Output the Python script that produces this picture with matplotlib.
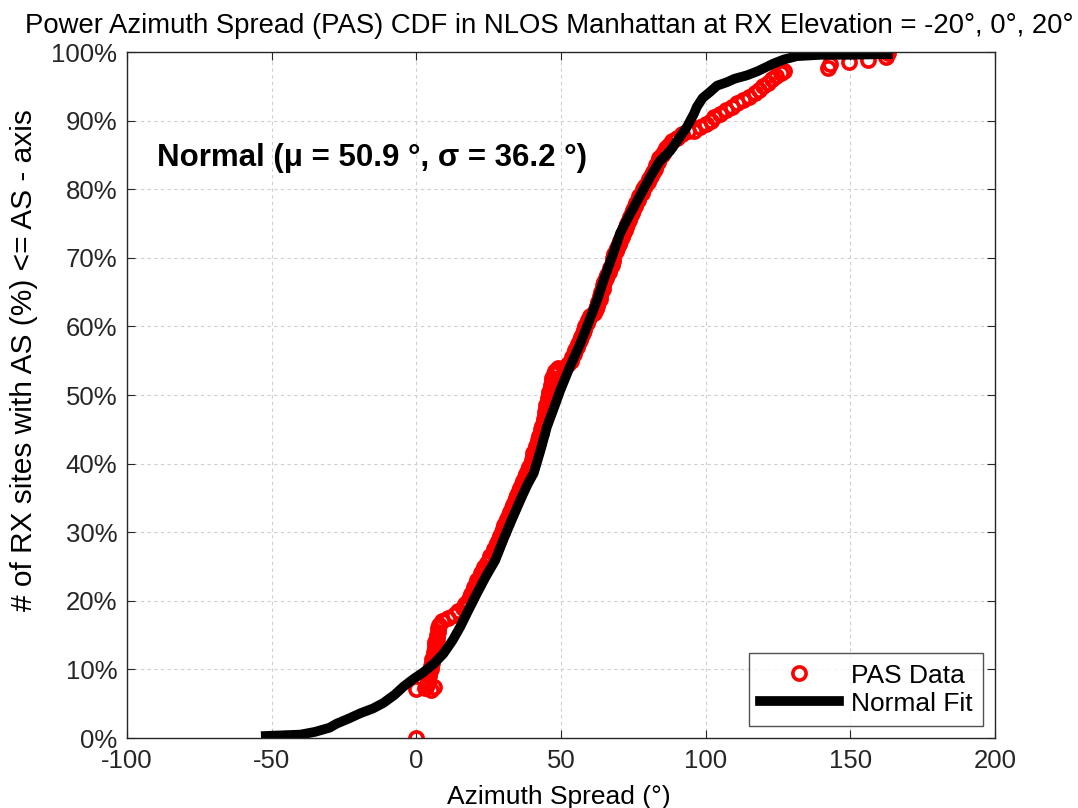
import matplotlib
matplotlib.use("Agg")
import matplotlib.pyplot as plt
from matplotlib.ticker import FuncFormatter

plt.rcParams['font.family'] = ['Liberation Sans', 'DejaVu Sans']
plt.rcParams['axes.unicode_minus'] = False

# PAS data (azimuth spread in degrees, CDF in %)
pas_as = [0, 0, 3, 6,
          5, 3.5, 4, 4, 4.5, 4.5, 5, 5, 5.5, 5.5,
          6, 6, 6.5, 6.5, 6.5, 7, 7, 7.5, 7.5, 8,
          9, 11, 13, 14.5, 16, 17, 18, 18.5, 19, 19.5,
          20, 20.5, 21, 22, 22.5, 23, 23.5, 24.5, 25, 25.5,
          26.5, 27, 27.5, 28, 28.5, 29, 29.5, 30, 30.5, 31,
          31.5, 32, 32.5, 33, 33.5, 34, 34.5, 35, 35.5, 36,
          36.5, 37, 37.5, 38, 38.5, 39, 39.5, 40, 40.5, 40.5,
          41, 41.5, 42, 42, 42.5, 43, 43, 43.5, 44, 44,
          44.5, 44.5, 45, 45, 45.5, 45.5, 46, 46, 46.5, 46.5,
          47, 47, 47.5, 48, 49, 51, 52.5, 53.5, 54, 54.5, 55,
          55.5, 56, 56.5, 57, 57.5, 58, 58.5, 59, 59.5, 60,
          61.5, 62, 62.5, 63, 63.5, 63.5, 64, 64.5, 64.5, 65,
          65.5, 66, 66.5, 67, 67.5, 68, 68, 68.5, 69, 69.5,
          70, 70.5, 71, 71.5, 72, 72.5, 73, 73.5, 74, 74.5,
          75, 75.5, 76, 76.5, 77, 78, 78.5, 79, 80, 80.5,
          81, 82, 82.5, 83, 83.5, 84, 85, 85.5, 86.5, 87.5,
          88.5, 90, 92, 94, 96, 98, 100, 102, 103, 105, 107,
          109, 111, 113, 115, 117, 118.5, 120, 121.5, 123, 124.5, 126, 127,
          142.5, 143, 149.5, 156, 162.5, 163]
pas_cdf = [0, 7.2, 7.3, 7.5,
           7.0, 7.5, 8.0, 8.5, 9.0, 9.5, 10.0, 10.5, 11.0, 11.5,
           12.0, 12.5, 13.0, 13.5, 14.0, 14.5, 15.0, 15.5, 16.0, 16.5,
           17.0, 17.5, 18.0, 18.5, 19.0, 19.5, 20.0, 20.5, 21.0, 21.5,
           22.0, 22.5, 23.0, 23.5, 24.0, 24.5, 25.0, 25.5, 26.0, 26.5,
           27.0, 27.5, 28.0, 28.5, 29.0, 29.5, 30.0, 30.5, 31.0, 31.5,
           32.0, 32.5, 33.0, 33.5, 34.0, 34.5, 35.0, 35.5, 36.0, 36.5,
           37.0, 37.5, 38.0, 38.5, 39.0, 39.5, 40.0, 40.5, 41.0, 41.5,
           42.0, 42.5, 43.0, 43.5, 44.0, 44.5, 45.0, 45.5, 46.0, 46.5,
           47.0, 47.5, 48.0, 48.5, 49.0, 49.5, 50.0, 50.5, 51.0, 51.5,
           52.0, 52.5, 53.0, 53.5, 54.0, 54.0, 54.5, 55.0, 55.5, 56.0, 56.5,
           57.0, 57.5, 58.0, 58.5, 59.0, 59.5, 60.0, 60.5, 61.0, 61.5,
           62.0, 62.5, 63.0, 63.5, 64.0, 64.5, 65.0, 65.5, 66.0, 66.5,
           67.0, 67.5, 68.0, 68.5, 69.0, 69.5, 70.0, 70.5, 71.0, 71.5,
           72.0, 72.5, 73.0, 73.5, 74.0, 74.5, 75.0, 75.5, 76.0, 76.5,
           77.0, 77.5, 78.0, 78.5, 79.0, 79.5, 80.0, 80.5, 81.0, 81.5,
           82.0, 82.5, 83.0, 83.5, 84.0, 84.5, 85.0, 85.5, 86.0, 86.5,
           87.0, 87.5, 88.0, 88.5, 88.5, 89.0, 89.5, 90.0, 90.5, 91.0, 91.5,
           92.0, 92.5, 93.0, 93.5, 94.0, 94.5, 95.0, 95.5, 96.0, 96.5, 97.0, 97.3,
           97.6, 98.3, 98.6, 98.9, 99.3, 99.8]

# Normal fit curve
fit_as = [-52, -40, -35, -30, -27.5, -23, -19.4, -15, -11.4, -7.5, -4.4, -1,
          2.5, 6, 9.4, 12.5, 15.2, 18, 21, 24, 27.3, 30.1, 33, 36, 38.5, 40.6,
          43, 45.2, 47.5, 49.8, 53, 56.7, 59.5, 62.5, 65, 68, 70.5, 72.8, 76,
          80.9, 84, 87.8, 93.6, 96, 97, 99, 101.6, 104, 107.4, 110, 114.3,
          118, 123.4, 127, 131.6, 140, 150, 163]
fit_cdf = [0.3, 0.5, 0.9, 1.5, 2.1, 2.9, 3.6, 4.3, 5.1, 6.3, 7.5, 8.6, 9.6,
           10.8, 12.3, 14.2, 16.2, 18.6, 21.1, 23.5, 25.9, 28.9, 31.8, 34.7,
           37, 38.6, 42, 45.4, 48, 50.7, 54, 57.5, 60.5, 63.8, 67, 70.5, 73.6,
           75.5, 78, 81.8, 84, 85.6, 89.1, 91, 92, 93.3, 94.2, 95.1, 95.6,
           96.1, 96.6, 97.2, 98.3, 98.9, 99.4, 99.6, 99.6, 99.7]

x_ticks = [-100, -50, 0, 50, 100, 150, 200]
y_ticks = [0, 10, 20, 30, 40, 50, 60, 70, 80, 90, 100]

fig = plt.figure(figsize=(10.78, 8.08), dpi=100)
ax = fig.add_axes([0.1178, 0.0866, 0.805, 0.849])

ax.plot(pas_as, pas_cdf, 'o', mfc='none', mec='red', ms=9.5, mew=2.6,
        label='PAS Data')
ax.plot(fit_as, fit_cdf, '-', color='black', lw=7, label='Normal Fit')

ax.set_xlim(-100, 200)
ax.set_ylim(0, 100)
ax.set_xticks(x_ticks)
ax.set_yticks(y_ticks)
ax.yaxis.set_major_formatter(FuncFormatter(lambda v, p: '%d%%' % v))
ax.tick_params(direction='in', length=6, top=True, right=True,
               labelsize=18.5, colors='#262626')
ax.tick_params(axis='y', pad=7)
ax.tick_params(axis='x', pad=8)
ax.grid(True, color='#cfcfcf', linestyle=(0, (3, 3)), linewidth=0.8)
ax.set_axisbelow(True)
for s in ax.spines.values():
    s.set_color('#262626')
    s.set_linewidth(1.0)

ax.set_title('Power Azimuth Spread (PAS) CDF in NLOS Manhattan at RX Elevation = -20°, 0°, 20°',
             fontsize=19.8, pad=14, x=0.4867)
ax.set_xlabel('Azimuth Spread (°)', fontsize=19)
ax.set_ylabel('# of RX sites with AS (%) <= AS - axis', fontsize=21.5)
ax.xaxis.set_label_coords(0.498, -0.068)
ax.yaxis.set_label_coords(-0.1025, 0.551)

ax.text(-89.6, 84.5, 'Normal (μ = 50.9 °, σ = 36.2 °)', fontsize=22.5,
        fontweight='bold', va='center', ha='left')

leg = ax.legend(loc='lower right', fontsize=19, frameon=True, fancybox=False,
                edgecolor='#262626', borderaxespad=0.45, handlelength=3.0,
                handletextpad=0.45, labelspacing=0.15, borderpad=0.4,
                markerfirst=True)
leg.get_frame().set_linewidth(1.0)

fig.savefig('out.png', dpi=100)
